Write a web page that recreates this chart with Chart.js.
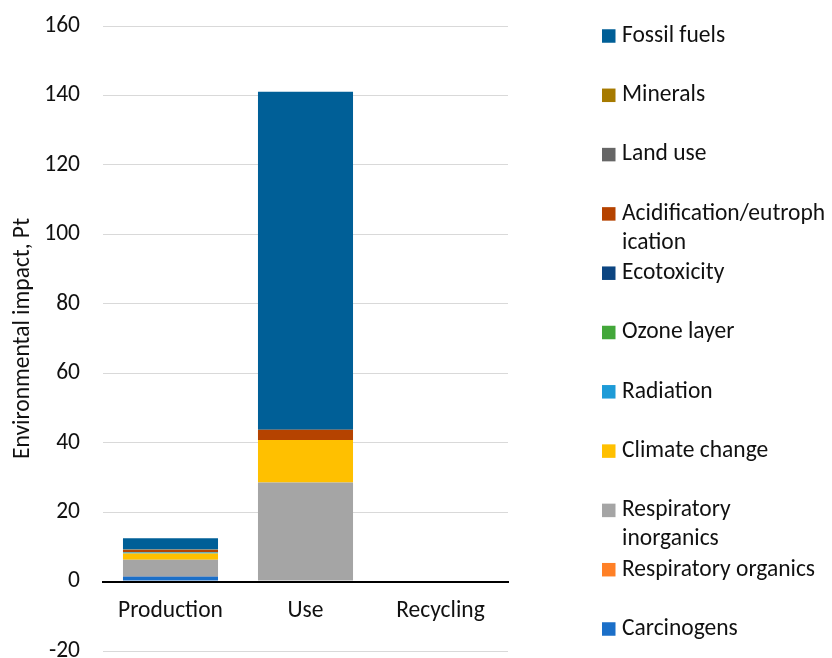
<!DOCTYPE html>
<html><head><meta charset="utf-8">
<script src="https://cdn.jsdelivr.net/npm/chart.js@4"></script>
<style>html,body{margin:0;padding:0;background:#fff}canvas{display:block}</style>
</head><body>
<canvas id="c" width="832" height="658"></canvas>
<script>
// ---- data ----
const categories = ['Production', 'Use', 'Recycling'];
const yTicks = [-20, 0, 20, 40, 60, 80, 100, 120, 140, 160];
const yTitle = 'Environmental impact, Pt';

// series, bottom of stack first
const seriesNames = ['Carcinogens', 'Respiratory organics', 'Respiratory inorganics', 'Climate change',
  'Radiation', 'Ozone layer', 'Ecotoxicity', 'Acidification/eutrophication', 'Land use', 'Minerals', 'Fossil fuels'];
// legend text as wrapped in the reference
const legendLines = [['Carcinogens'], ['Respiratory organics'], ['Respiratory', 'inorganics'], ['Climate change'],
  ['Radiation'], ['Ozone layer'], ['Ecotoxicity'], ['Acidification/eutroph', 'ication'], ['Land use'], ['Minerals'], ['Fossil fuels']];
const seriesColors = ['#1B6FC8', '#FF8026', '#A5A5A5', '#FFC000',
  '#1E9BD7', '#43A73A', '#0C4581', '#B54300', '#666666', '#A67A00', '#005F97'];

const carcinogens          = [1.45, 0, 0];
const respiratoryOrganics  = [0.05, 0, 0];
const respiratoryInorganics= [4.8, 28.5, 0];
const climateChange        = [1.8, 12.3, 0];
const radiation            = [0.3, 0, 0];
const ozoneLayer           = [0.02, 0, 0];
const ecotoxicity          = [0.05, 0, 0];
const acidification        = [0.6, 2.9, 0];
const landUse              = [0.15, 0, 0];
const minerals             = [0.05, 0, 0];
const fossilFuels          = [3.2, 97.4, 0];

const seriesValues = [carcinogens, respiratoryOrganics, respiratoryInorganics, climateChange,
  radiation, ozoneLayer, ecotoxicity, acidification, landUse, minerals, fossilFuels];

// ---- chart ----
const FONT = "Carlito, Lato, 'Open Sans', sans-serif";
const FS = 23.5;
const TXT = '#111111';

const legendPlugin = {
  id: 'sideLegend',
  afterDraw(chart) {
    const ctx = chart.ctx;
    const n = chart.data.datasets.length;
    const x0 = 602, size = 13.5, tx = 622;
    const y0 = 36, pitch = 59.3, lineH = 29;
    ctx.save();
    ctx.font = FS + 'px ' + FONT;
    ctx.textBaseline = 'middle';
    ctx.textAlign = 'left';
    for (let j = n - 1; j >= 0; j--) {
      const d = chart.data.datasets[j];
      const i = n - 1 - j;
      const y = y0 + pitch * i;
      ctx.fillStyle = d.backgroundColor;
      ctx.fillRect(x0, y - size / 2, size, size);
      ctx.fillStyle = TXT;
      legendLines[j].forEach((ln, k) => ctx.fillText(ln, tx, y + k * lineH));
    }
    ctx.restore();
  }
};

new Chart(document.getElementById('c'), {
  type: 'bar',
  data: {
    labels: categories,
    datasets: seriesNames.map((n, i) => ({
      label: n,
      data: seriesValues[i],
      backgroundColor: seriesColors[i],
      borderWidth: 0,
      categoryPercentage: 1,
      barPercentage: 0.704
    }))
  },
  options: {
    responsive: false,
    animation: false,
    layout: { padding: { left: 0, right: 324, top: 26, bottom: 7 } },
    plugins: { legend: { display: false }, tooltip: { enabled: false } },
    scales: {
      x: {
        stacked: true,
        position: { y: 0 },
        grid: { display: false, drawTicks: false },
        border: { display: true, color: '#000', width: 2 },
        ticks: { color: TXT, font: { family: FONT, size: FS }, padding: 15, maxRotation: 0 }
      },
      y: {
        stacked: true,
        min: -20, max: 160,
        afterBuildTicks(s) { s.ticks = yTicks.map(v => ({ value: v })); },
        afterFit(s) { s.width = 103; s.paddingTop = 0; s.paddingBottom = 0; },
        grid: {
          drawTicks: false,
          color: c => (c.tick && c.tick.value === 0) ? '#000' : '#D9D9D9',
          lineWidth: c => (c.tick && c.tick.value === 0) ? 2 : 1
        },
        border: { display: false },
        ticks: { color: TXT, font: { family: FONT, size: FS }, padding: 23 },
        title: { display: true, text: yTitle, color: TXT, font: { family: FONT, size: FS }, padding: { top: 9, bottom: 0 } }
      }
    }
  },
  plugins: [legendPlugin]
});
</script>
</body></html>
